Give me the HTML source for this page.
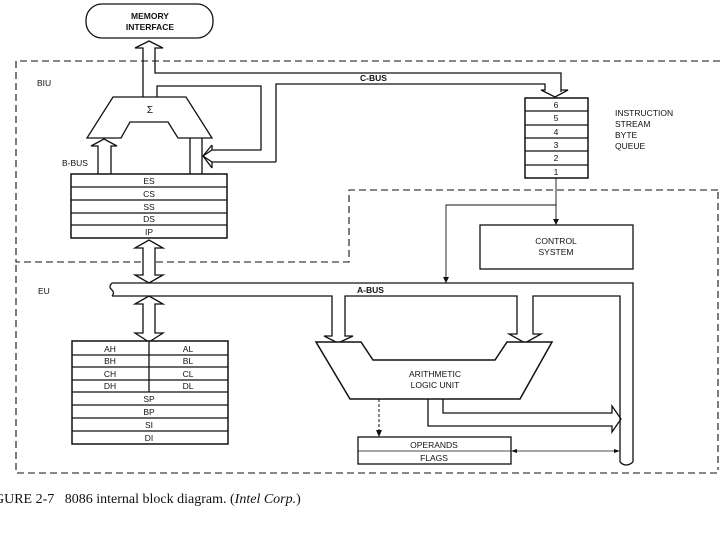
<!DOCTYPE html>
<html><head><style>body{margin:0;background:#fff}svg{display:block}</style></head><body>
<svg width="720" height="540" viewBox="0 0 720 540" xmlns="http://www.w3.org/2000/svg" font-family="Liberation Sans, sans-serif" font-size="8.5" fill="none" stroke="#111" stroke-width="1.3">
<!-- dashed boxes -->
<g stroke-dasharray="7,4" stroke-width="1.1">
<path d="M720 61 H16 V262 H349 V190 H720"/>
<path d="M16 265 V473 H720"/>
<path d="M718 192 V470"/>
</g>
<!-- memory interface -->
<rect x="86" y="4" width="127" height="34" rx="16" fill="#fff"/>
<g fill="#111" stroke="none" text-anchor="middle" font-weight="bold">
<text x="150" y="19">MEMORY</text><text x="150" y="30">INTERFACE</text>
</g>
<!-- up arrow to memory -->
<path d="M143 97 V48 H135 L149 41 L163 48 H155 V73 H561 V92"/>
<path d="M276 162 V84 H545 V90 H541 L555 97 L568 90 H561"/>
<path d="M157 97 V86 H261 V150 H212 L203 156 L212 162 H276"/>
<path d="M212 150 V145 M212 162 V168 M212 145 L203 156 L212 168"/>
<!-- sigma -->
<path d="M113 97 H186 L212 138 H178 L168 122 H130 L121 138 H87 Z" fill="#fff"/>
<text x="150" y="113" fill="#111" stroke="none" text-anchor="middle" font-size="10">Σ</text>
<!-- B-bus arrows -->
<path d="M98 174 V146 H91 L104 139 L117 146 H111 V174"/>
<path d="M190 138 V174 M202 138 V174"/>
<text x="62" y="166" fill="#111" stroke="none">B-BUS</text>
<text x="37" y="86" fill="#111" stroke="none">BIU</text>
<text x="38" y="294" fill="#111" stroke="none">EU</text>
<text x="360" y="81" fill="#111" stroke="none" font-weight="bold">C-BUS</text>
<text x="357" y="293" fill="#111" stroke="none" font-weight="bold">A-BUS</text>
<!-- segment regs -->
<rect x="71" y="174" width="156" height="64" fill="#fff" stroke-width="1.5"/>
<path d="M71 187 H227 M71 200 H227 M71 213 H227 M71 225 H227"/>
<g fill="#111" stroke="none" text-anchor="middle">
<text x="149" y="184">ES</text><text x="149" y="197">CS</text><text x="149" y="210">SS</text><text x="149" y="222">DS</text><text x="149" y="235">IP</text>
</g>
<!-- double arrows -->
<path d="M143 275 V248 H135 L149 240 L163 248 H155 V275 H163 L149 283 L135 275 Z" fill="#fff"/>
<path d="M143 333 V304 H135 L149 296 L163 304 H155 V333 H163 L149 342 L135 333 Z" fill="#fff"/>
<!-- A bus -->
<path d="M112 283 H633 V462 M112 296 H332 V336 H324 L338 343 L353 336 H345 V296 H517 V334 H509 L525 343 L541 334 H533 V296 H620 V462"/>
<path d="M112 283 Q108 287 112 290 Q115 293 112 296"/>
<path d="M620 462 Q626 468 633 462"/>
<!-- EU regs -->
<rect x="72" y="341" width="156" height="103" fill="#fff" stroke-width="1.5"/>
<path d="M72 355 H228 M72 367 H228 M72 380 H228 M72 392 H228 M72 405 H228 M72 418 H228 M72 431 H228 M149 341 V392"/>
<g fill="#111" stroke="none" text-anchor="middle">
<text x="110" y="352">AH</text><text x="188" y="352">AL</text>
<text x="110" y="364">BH</text><text x="188" y="364">BL</text>
<text x="110" y="377">CH</text><text x="188" y="377">CL</text>
<text x="110" y="389">DH</text><text x="188" y="389">DL</text>
<text x="149" y="402">SP</text><text x="149" y="415">BP</text><text x="149" y="428">SI</text><text x="149" y="441">DI</text>
</g>
<!-- ALU -->
<path d="M316 342 H361 L373 360 H495 L507 342 H552 L520 399 H350 Z" fill="#fff" stroke-width="1.5"/>
<g fill="#111" stroke="none" text-anchor="middle">
<text x="435" y="377">ARITHMETIC</text><text x="435" y="388">LOGIC UNIT</text>
</g>
<path d="M379 399 V434" stroke-dasharray="3,2" stroke-width="1"/>
<path d="M376 430 L379 437 L382 430 Z" fill="#111" stroke="none"/>
<path d="M428 399 V426 H612 V432 L621 419 L612 406 V413 H443 V399"/>
<!-- operands -->
<rect x="358" y="437" width="153" height="27" fill="#fff"/>
<path d="M358 451 H511" stroke-width="0.8"/>
<g fill="#111" stroke="none" text-anchor="middle">
<text x="434" y="448">OPERANDS</text><text x="434" y="461">FLAGS</text>
</g>
<path d="M515 451 H616" stroke-width="0.8"/>
<path d="M511 451 L517 449 V453 Z M620 451 L614 449 V453 Z" fill="#111" stroke="none"/>
<!-- queue -->
<rect x="525" y="98" width="63" height="80" fill="#fff" stroke-width="1.5"/>
<path d="M525 111 H588 M525 125 H588 M525 138 H588 M525 151 H588 M525 165 H588"/>
<g fill="#111" stroke="none" text-anchor="middle">
<text x="556" y="108">6</text><text x="556" y="121">5</text><text x="556" y="135">4</text><text x="556" y="148">3</text><text x="556" y="161">2</text><text x="556" y="175">1</text>
</g>
<g fill="#111" stroke="none">
<text x="615" y="116">INSTRUCTION</text><text x="615" y="127">STREAM</text><text x="615" y="138">BYTE</text><text x="615" y="149">QUEUE</text>
</g>
<!-- control -->
<path d="M556 178 V222 M556 205 H446 V280" stroke-width="0.9"/>
<path d="M553 219 L556 225 L559 219 Z M443 277 L446 283 L449 277 Z" fill="#111" stroke="none"/>
<rect x="480" y="225" width="153" height="44" fill="#fff"/>
<g fill="#111" stroke="none" text-anchor="middle">
<text x="556" y="244">CONTROL</text><text x="556" y="255">SYSTEM</text>
</g>
<text x="-6" y="503" fill="#111" stroke="none" font-family="Liberation Serif, serif" font-size="14">GURE 2-7 &#160; 8086 internal block diagram. (<tspan font-style="italic">Intel Corp.</tspan>)</text>
</svg>
</body></html>
